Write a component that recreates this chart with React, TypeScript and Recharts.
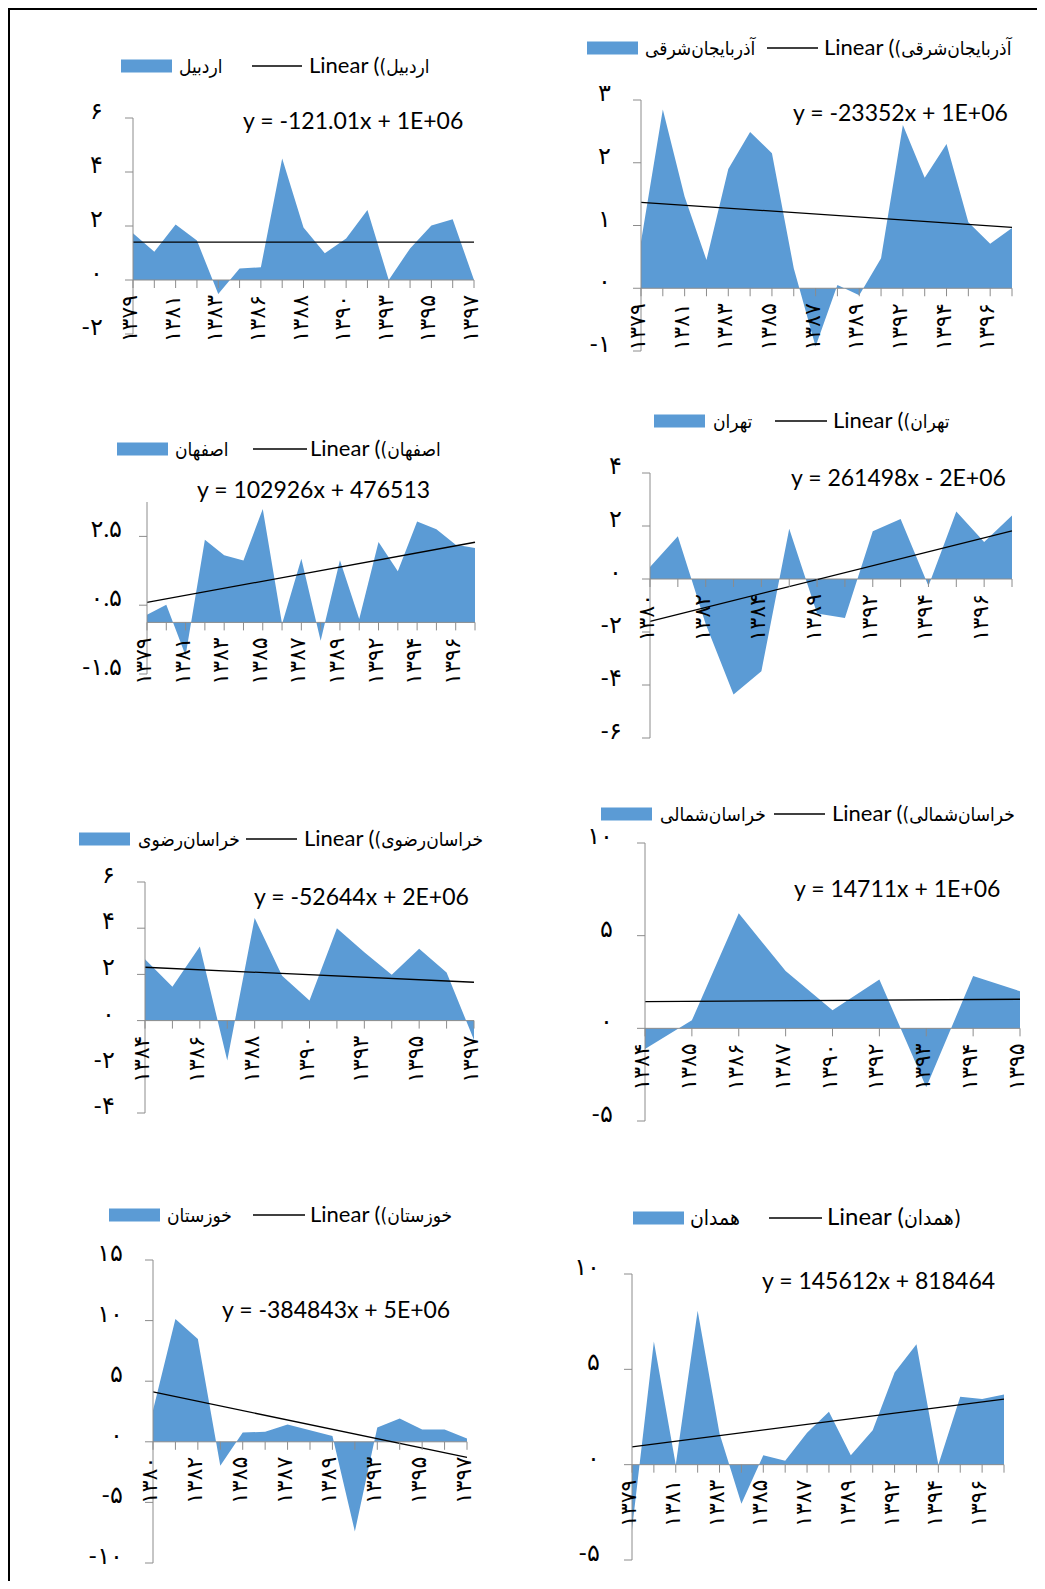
import { ComposedChart, Area, Line, XAxis, YAxis, ReferenceLine, ReferenceDot } from 'recharts'

const FONT = "Lato, 'DejaVu Sans', sans-serif"
const FA_FONT = "'DejaVu Sans Condensed', 'DejaVu Sans', sans-serif"
const AREA_BLUE = '#5b9bd5'
const AXIS_GREY = '#8c8c8c'
const FA_DIGITS = '۰۱۲۳۴۵۶۷۸۹'

// اردبیل
const ardabilYears = ['1379', '1380', '1381', '1382', '1383', '1385', '1386', '1387', '1388', '1389', '1390', '1392', '1393', '1394', '1395', '1396', '1397']
const ardabilValues = [1.73, 1.05, 2.06, 1.46, -0.52, 0.43, 0.47, 4.5, 1.94, 0.99, 1.54, 2.59, 0, 1.17, 2.02, 2.25, 0]
const ardabilTrend = [1.4, 1.4]

// آذربایجان شرقی
const azarYears = ['1379', '1380', '1381', '1382', '1383', '1384', '1385', '1386', '1387', '1388', '1389', '1390', '1392', '1393', '1394', '1395', '1396', '1397']
const azarValues = [0.74, 2.85, 1.46, 0.45, 1.9, 2.49, 2.15, 0.32, -0.93, 0.05, -0.11, 0.48, 2.6, 1.76, 2.3, 1.05, 0.71, 0.96]
const azarTrend = [1.37, 0.97]

// اصفهان
const esfahanYears = ['1379', '1380', '1381', '1382', '1383', '1384', '1385', '1386', '1387', '1388', '1389', '1390', '1392', '1393', '1394', '1395', '1396', '1397']
const esfahanValues = [0.22, 0.51, -0.96, 2.4, 1.95, 1.8, 3.3, -0.05, 1.85, -0.53, 1.81, 0.1, 2.34, 1.49, 2.93, 2.71, 2.26, 2.16]
const esfahanTrend = [0.58, 2.33]

// تهران
const tehranYears = ['1380', '1381', '1382', '1383', '1384', '1385', '1389', '1390', '1392', '1393', '1394', '1395', '1396', '1397']
const tehranValues = [0.45, 1.61, -1.7, -4.36, -3.48, 1.9, -1.3, -1.47, 1.8, 2.26, -0.26, 2.55, 1.4, 2.4]
const tehranTrend = [-1.6, 1.82]

// خراسان رضوی
const razaviYears = ['1384', '1385', '1386', '1387', '1388', '1389', '1390', '1392', '1393', '1394', '1395', '1396', '1397']
const razaviValues = [2.66, 1.47, 3.21, -1.73, 4.44, 1.94, 0.87, 4.0, 2.96, 1.99, 3.11, 2.08, -0.84]
const razaviTrend = [2.31, 1.66]

// خراسان شمالی
const shomaliYears = ['1384', '1385', '1386', '1387', '1390', '1392', '1393', '1394', '1395']
const shomaliValues = [-1.12, 0.43, 6.21, 3.09, 0.97, 2.64, -3.18, 2.82, 2.0]
const shomaliTrend = [1.44, 1.57]

// خوزستان
const khuzestanYears = ['1380', '1381', '1382', '1383', '1385', '1386', '1387', '1388', '1389', '1392', '1393', '1394', '1395', '1396', '1397']
const khuzestanValues = [2.6, 10.14, 8.49, -1.97, 0.77, 0.82, 1.42, 0.96, 0.47, -7.4, 1.18, 1.92, 1.01, 1.01, 0.27]
const khuzestanTrend = [4.11, -1.29]

// همدان
const hamedanYears = ['1379', '1380', '1381', '1382', '1383', '1384', '1385', '1386', '1387', '1388', '1389', '1390', '1392', '1393', '1394', '1395', '1396', '1397']
const hamedanValues = [-3.4, 6.46, 0, 8.07, 1.63, -2.05, 0.49, 0.21, 1.67, 2.77, 0.49, 1.81, 4.84, 6.32, 0, 3.56, 3.44, 3.68]
const hamedanTrend = [0.93, 3.44]

type Panel = {
  name: string
  equation: string
  years: string[]
  values: number[]
  trend: number[]
  domain: [number, number]
  ticks: number[]
  labelEvery: number
  plainParens?: boolean
}

const panels: Panel[] = [
  { name: 'اردبیل', equation: 'y = -121.01x + 1E+06', years: ardabilYears, values: ardabilValues, trend: ardabilTrend, domain: [-2, 6], ticks: [-2, 0, 2, 4, 6], labelEvery: 2 },
  { name: 'آذربایجان‌شرقی', equation: 'y = -23352x + 1E+06', years: azarYears, values: azarValues, trend: azarTrend, domain: [-1, 3], ticks: [-1, 0, 1, 2, 3], labelEvery: 2 },
  { name: 'اصفهان', equation: 'y = 102926x + 476513', years: esfahanYears, values: esfahanValues, trend: esfahanTrend, domain: [-1.5, 3.5], ticks: [-1.5, 0.5, 2.5], labelEvery: 2 },
  { name: 'تهران', equation: 'y = 261498x - 2E+06', years: tehranYears, values: tehranValues, trend: tehranTrend, domain: [-6, 4], ticks: [-6, -4, -2, 0, 2, 4], labelEvery: 2 },
  { name: 'خراسان‌رضوی', equation: 'y = -52644x + 2E+06', years: razaviYears, values: razaviValues, trend: razaviTrend, domain: [-4, 6], ticks: [-4, -2, 0, 2, 4, 6], labelEvery: 2 },
  { name: 'خراسان‌شمالی', equation: 'y = 14711x + 1E+06', years: shomaliYears, values: shomaliValues, trend: shomaliTrend, domain: [-5, 10], ticks: [-5, 0, 5, 10], labelEvery: 1 },
  { name: 'خوزستان', equation: 'y = -384843x + 5E+06', years: khuzestanYears, values: khuzestanValues, trend: khuzestanTrend, domain: [-10, 15], ticks: [-10, -5, 0, 5, 10, 15], labelEvery: 2 },
  { name: 'همدان', equation: 'y = 145612x + 818464', years: hamedanYears, values: hamedanValues, trend: hamedanTrend, domain: [-5, 10], ticks: [-5, 0, 5, 10], labelEvery: 2, plainParens: true },
]

// page positions: plot box, legend pieces, equation anchor
const layout = [
  { plot: { left: 133, right: 474, top: 118, bottom: 334 }, tickGap: 22, legend: { rectX: 121, cy: 66, nameX: 179, lineX1: 252, lineX2: 302, textX: 309, size: 22, faSize: 19 }, eq: { x: 243, y: 129 } },
  { plot: { left: 641, right: 1012, top: 100, bottom: 351 }, tickGap: 22, legend: { rectX: 587, cy: 48, nameX: 645, lineX1: 767, lineX2: 818, textX: 824, size: 22, faSize: 19 }, eq: { x: 793, y: 121 } },
  { plot: { left: 147, right: 475, top: 502, bottom: 674 }, tickGap: 17, legend: { rectX: 117, cy: 449, nameX: 175, lineX1: 253, lineX2: 307, textX: 310, size: 22, faSize: 19 }, eq: { x: 197, y: 498 } },
  { plot: { left: 650, right: 1012, top: 473, bottom: 738 }, tickGap: 20, legend: { rectX: 654, cy: 421, nameX: 713, lineX1: 775, lineX2: 827, textX: 833, size: 22, faSize: 19 }, eq: { x: 791, y: 486 } },
  { plot: { left: 145, right: 474, top: 882, bottom: 1113 }, tickGap: 22, legend: { rectX: 79, cy: 839, nameX: 138, lineX1: 246, lineX2: 297, textX: 304, size: 22, faSize: 19 }, eq: { x: 254, y: 905 } },
  { plot: { left: 645, right: 1020, top: 843, bottom: 1121 }, tickGap: 24, legend: { rectX: 601, cy: 814, nameX: 660, lineX1: 774, lineX2: 825, textX: 832, size: 22, faSize: 19 }, eq: { x: 794, y: 897 } },
  { plot: { left: 153, right: 467, top: 1260, bottom: 1563 }, tickGap: 22, legend: { rectX: 109, cy: 1215, nameX: 167, lineX1: 253, lineX2: 305, textX: 310, size: 22, faSize: 19 }, eq: { x: 222, y: 1318 } },
  { plot: { left: 632, right: 1004, top: 1274, bottom: 1560 }, tickGap: 24, legend: { rectX: 633, cy: 1218, nameX: 690, lineX1: 769, lineX2: 822, textX: 827, size: 24, faSize: 21 }, eq: { x: 762, y: 1289 } },
]

const OFFSET = 10 // body margin + frame border
const Y_AXIS_W = 80
const M = { top: 30, right: 14, bottom: 30 }
const Y_TICK_SIZE = 24
const X_LABEL_SIZE = 22

const toFa = (v: number | string) => String(v).replace(/\d/g, (d) => FA_DIGITS[Number(d)])

const YTick = ({ x, y, payload }: any) => (
  <text x={x} y={y + 1} textAnchor="end" fontSize={Y_TICK_SIZE} fill="#000" fontFamily={FONT}>
    {toFa(payload.value)}
  </text>
)

// category tick mark on the zero line, with a rotated year label
const categoryTick = (label: string | null) => (props: any) => {
  const { cx, cy } = props
  return (
    <g>
      <line x1={cx} y1={cy} x2={cx} y2={cy + 8} stroke={AXIS_GREY} strokeWidth={1} />
      {label && (
        <text
          transform={`translate(${cx + 4},${cy + 15}) rotate(-90)`}
          textAnchor="end"
          fontSize={X_LABEL_SIZE}
          fill="#000"
          fontFamily={FONT}
        >
          {toFa(label)}
        </text>
      )}
    </g>
  )
}

function TrendPanel({ p, box }: { p: Panel; box: (typeof layout)[number] }) {
  const last = p.years.length - 1
  const data = p.years.map((year, i) => ({
    year,
    value: p.values[i],
    trend: i === 0 ? p.trend[0] : i === last ? p.trend[1] : null,
  }))
  const { plot } = box
  const width = plot.right - plot.left + Y_AXIS_W + M.right
  const height = plot.bottom - plot.top + M.top + M.bottom

  return (
    <div style={{ position: 'absolute', left: plot.left - Y_AXIS_W - OFFSET, top: plot.top - M.top - OFFSET }}>
      <ComposedChart width={width} height={height} data={data} margin={{ top: M.top, right: M.right, bottom: M.bottom, left: 0 }}>
        <XAxis dataKey="year" type="category" scale="point" padding={{ left: 0, right: 0 }} hide />
        <YAxis
          type="number"
          domain={p.domain}
          ticks={p.ticks}
          interval={0}
          allowDataOverflow
          width={Y_AXIS_W}
          axisLine={{ stroke: AXIS_GREY }}
          tickLine={{ stroke: AXIS_GREY }}
          tickSize={8}
          tickMargin={box.tickGap}
          tick={<YTick />}
        />
        <Area
          dataKey="value"
          type="linear"
          baseValue={0}
          fill={AREA_BLUE}
          fillOpacity={1}
          stroke="none"
          dot={false}
          activeDot={false}
          isAnimationActive={false}
        />
        <ReferenceLine y={0} stroke={AXIS_GREY} strokeWidth={1} />
        {p.years.map((year, i) => (
          <ReferenceDot key={year} x={year} y={0} r={0} shape={categoryTick(i % p.labelEvery === 0 ? year : null)} />
        ))}
        <Line
          dataKey="trend"
          type="linear"
          connectNulls
          stroke="#000"
          strokeWidth={1.3}
          dot={false}
          activeDot={false}
          isAnimationActive={false}
        />
      </ComposedChart>
    </div>
  )
}

export default function App() {
  return (
    <div
      style={{
        position: 'relative',
        width: 1027,
        height: 1571,
        borderTop: '2px solid #000',
        borderLeft: '2px solid #000',
        background: '#fff',
        fontFamily: FONT,
      }}
    >
      {panels.map((p, i) => (
        <TrendPanel key={p.name} p={p} box={layout[i]} />
      ))}

      {/* legends and trendline equations */}
      <svg width={1027} height={1571} style={{ position: 'absolute', left: 0, top: 0, pointerEvents: 'none' }}>
        <g transform={`translate(${-OFFSET},${-OFFSET})`} fontFamily={FONT} fill="#000">
          {panels.map((p, i) => {
            const { legend: lg, eq } = layout[i]
            return (
              <g key={p.name}>
                <rect x={lg.rectX} y={lg.cy - 6.5} width={51} height={13} fill={AREA_BLUE} />
                <text x={lg.nameX} y={lg.cy + 7} fontSize={lg.faSize} fontFamily={FA_FONT}>{p.name}</text>
                <line x1={lg.lineX1} x2={lg.lineX2} y1={lg.cy} y2={lg.cy} stroke="#000" strokeWidth={1.3} />
                <text x={lg.textX} y={lg.cy + 7} fontSize={lg.size}>
                  <tspan>Linear (</tspan>
                  {p.plainParens ? (
                    <tspan fontSize={lg.faSize} fontFamily={FA_FONT}>{`${p.name})`}</tspan>
                  ) : (
                    <tspan fontSize={lg.faSize} fontFamily={FA_FONT}>{`\u2067${p.name})\u2069`}</tspan>
                  )}
                </text>
                <text x={eq.x} y={eq.y} fontSize={23}>{p.equation}</text>
              </g>
            )
          })}
        </g>
      </svg>
    </div>
  )
}
